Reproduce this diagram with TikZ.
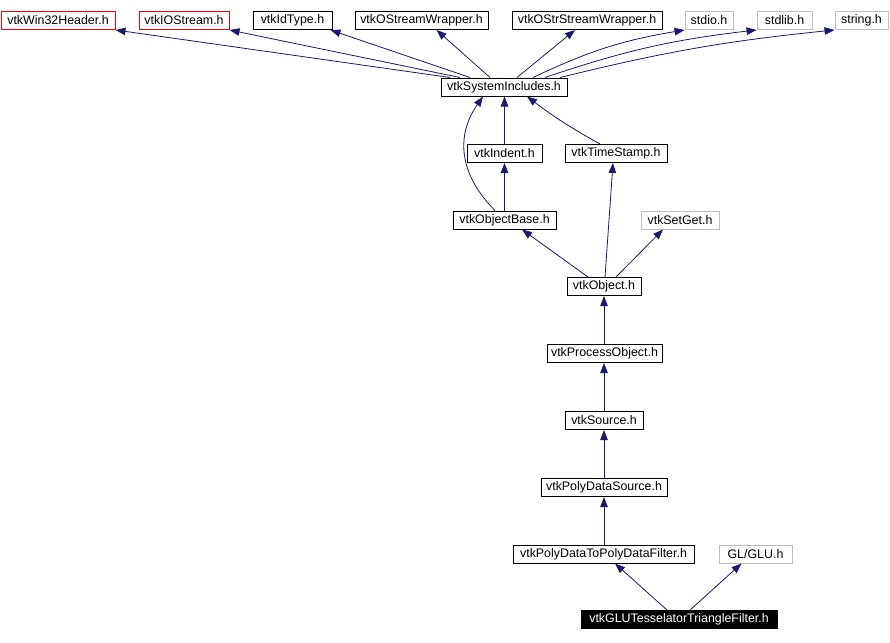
\documentclass[tikz,border=0pt]{standalone}
\usepackage{fontspec}
\setmainfont{Liberation Sans}
\usetikzlibrary{arrows.meta}
\definecolor{edgecol}{HTML}{191970}
\definecolor{greybd}{HTML}{BFBFBF}
\begin{document}
\begin{tikzpicture}[x=1pt,y=1pt,
  box/.style={draw=black,line width=1pt,rectangle,inner sep=0pt,minimum height=18pt,font=\fontsize{12.4}{14}\selectfont,text=black},
  redbox/.style={box,draw=red},
  greybox/.style={box,draw=greybd},
  mainbox/.style={box,fill=black,text=white},
  edge/.style={draw=edgecol,line width=0.8pt,-{Triangle[length=10pt,width=7.5pt]}}]
\useasboundingbox (0,0) rectangle (890,-642);
% top row
\node[redbox,minimum width=114pt] (win) at (58,-20.5) {vtkWin32Header.h};
\node[redbox,minimum width=90pt] (ios) at (184,-20.5) {vtkIOStream.h};
\node[box,minimum width=79pt] (idt) at (292.5,-20.5) {vtkIdType.h};
\node[box,minimum width=133pt] (osw) at (421.5,-20.5) {vtkOStreamWrapper.h};
\node[box,minimum width=150pt] (ossw) at (587,-20.5) {vtkOStrStreamWrapper.h};
\node[greybox,minimum width=48pt] (stdio) at (709,-20.5) {stdio.h};
\node[greybox,minimum width=55pt] (stdlib) at (784.5,-20.5) {stdlib.h};
\node[greybox,minimum width=53pt] (string) at (861.5,-20.5) {string.h};
% middle
\node[box,minimum width=126pt] (sys) at (504,-87) {vtkSystemIncludes.h};
\node[box,minimum width=75pt] (ind) at (504.5,-153.5) {vtkIndent.h};
\node[box,minimum width=102pt] (ts) at (616,-153.5) {vtkTimeStamp.h};
\node[box,minimum width=103pt] (ob) at (504.5,-220) {vtkObjectBase.h};
\node[greybox,minimum width=78pt] (sg) at (680,-220) {vtkSetGet.h};
\node[box,minimum width=74pt] (obj) at (604,-286.5) {vtkObject.h};
\node[box,minimum width=115pt] (po) at (604.5,-353.5) {vtkProcessObject.h};
\node[box,minimum width=78pt] (src) at (604,-420.5) {vtkSource.h};
\node[box,minimum width=126pt] (pds) at (604,-487.5) {vtkPolyDataSource.h};
\node[box,minimum width=181pt] (pdf) at (603.5,-554) {vtkPolyDataToPolyDataFilter.h};
\node[greybox,minimum width=73pt] (glu) at (755.5,-554) {GL/GLU.h};
\node[mainbox,minimum width=196pt] (tess) at (679,-619.5) {vtkGLUTesselatorTriangleFilter.h};
% edges to top row
\draw[edge] ([xshift=-54pt]sys.north) -- (win.south east);
\draw[edge] ([xshift=-44pt]sys.north) -- (ios.south east);
\draw[edge] ([xshift=-34pt]sys.north) -- ([xshift=-2pt]idt.south east);
\draw[edge] ([xshift=-14pt]sys.north) -- ([xshift=15pt]osw.south);
\draw[edge] ([xshift=13pt]sys.north) -- ([xshift=-12pt]ossw.south);
\draw[edge] ([xshift=29pt]sys.north) to[bend left=8] (stdio.south west);
\draw[edge] ([xshift=41pt]sys.north) to[bend left=6] (stdlib.south west);
\draw[edge] ([xshift=56pt]sys.north) to[bend left=4] (string.south west);
% middle edges
\draw[edge] (ind.north) -- (ind.north |- sys.south);
\draw[edge] ([xshift=-16pt]ts.north) to[bend left=4] ([xshift=23pt]sys.south);
\draw[edge] ([xshift=-9.5pt]ob.north) to[out=135,in=235,looseness=1.1] ([xshift=-21pt]sys.south);
\draw[edge] (ob.north -| ind.south) -- (ind.south);
\draw[edge] ([xshift=-16pt]obj.north) -- ([xshift=17.5pt]ob.south);
\draw[edge] ([xshift=1pt]obj.north) -- ([xshift=-3pt]ts.south);
\draw[edge] ([xshift=12pt]obj.north) -- ([xshift=-17pt]sg.south);
% chain
\draw[edge] (po.north -| obj.south) -- (obj.south);
\draw[edge] (src.north -| obj.south) -- (obj.south |- po.south);
\draw[edge] (pds.north -| obj.south) -- (obj.south |- src.south);
\draw[edge] (pdf.north -| obj.south) -- (obj.south |- pds.south);
\draw[edge] ([xshift=-12pt]tess.north) -- ([xshift=11.5pt]pdf.south);
\draw[edge] ([xshift=11pt]tess.north) -- ([xshift=-14pt]glu.south);
\end{tikzpicture}
\end{document}
